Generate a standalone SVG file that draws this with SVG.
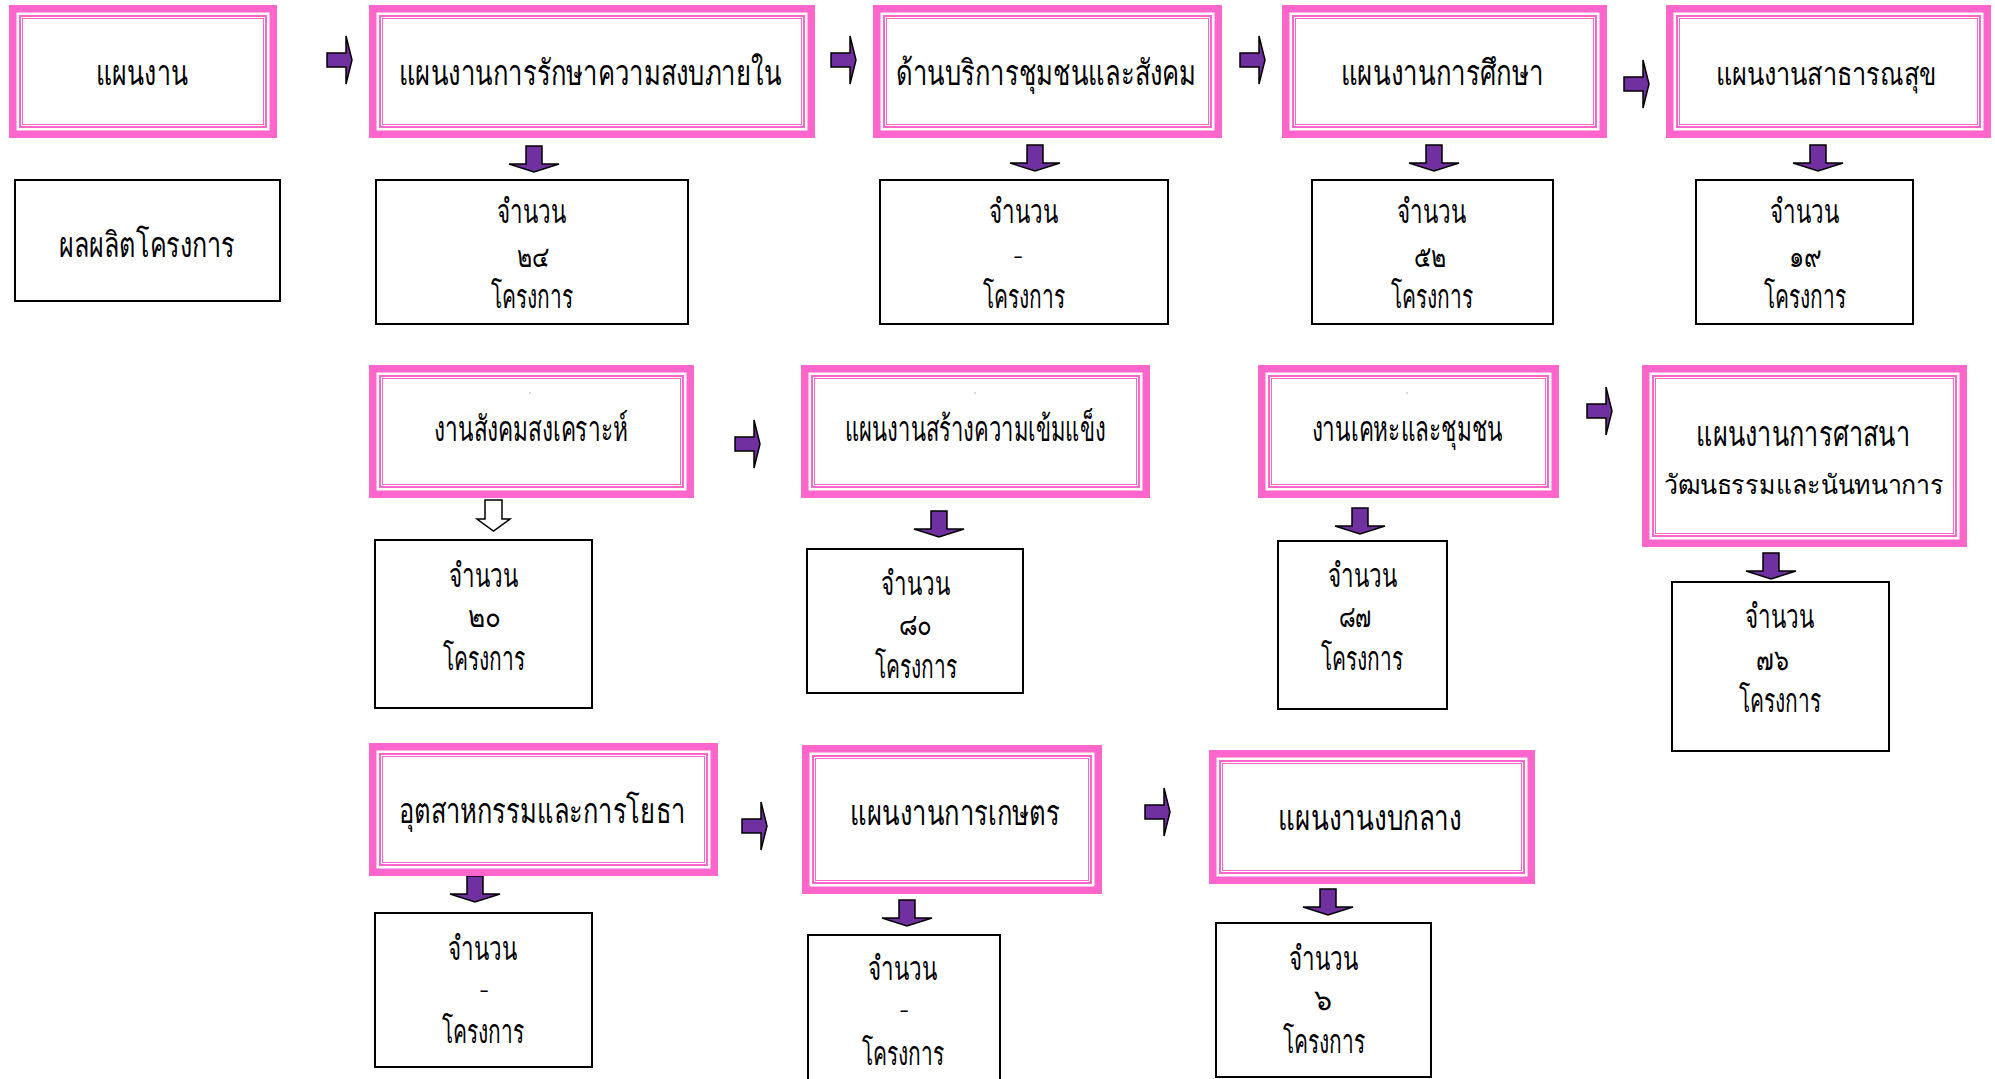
<svg xmlns="http://www.w3.org/2000/svg" xmlns:xlink="http://www.w3.org/1999/xlink" width="1995" height="1079" viewBox="0 0 1995 1079">
<style>
.po{fill:#fff;stroke:#FF66CC;stroke-width:7.5}
.pi{fill:none;stroke:#FF66CC;stroke-width:2}
.pt{fill:none;stroke:#FF66CC;stroke-width:1}
.wb{fill:#fff;stroke:#000;stroke-width:2}
.t{font-family:"Noto Sans","DejaVu Sans",sans-serif;font-size:35px;font-weight:300;fill:#000;text-anchor:middle}
.c{font-family:"Noto Sans","DejaVu Sans",sans-serif;font-size:33px;font-weight:300;fill:#000;text-anchor:middle}
.n{font-family:"Noto Sans","DejaVu Sans",sans-serif;font-size:30px;font-weight:300;fill:#000;text-anchor:middle}
.s{font-family:"DejaVu Sans",sans-serif;font-size:7px;fill:#777;text-anchor:middle}
.ar{fill:#7030A0;stroke:#000;stroke-width:1.5;stroke-linejoin:miter}
.ah{fill:#fff;stroke:#000;stroke-width:1.5}
</style>
<defs>
<path id="ra" d="M0,17 H19 V0 L25,24 L19,48 V31 H0 Z"/>
<path id="da" d="M17,0 H33 V18 H50 L25,26 L0,18 H17 Z"/>
</defs>
<rect width="1995" height="1079" fill="#fff"/>

<g id="connectors">
<use href="#ra" class="ar" x="327" y="36"/>
<use href="#ra" class="ar" x="831" y="36"/>
<use href="#ra" class="ar" x="1240" y="36"/>
<use href="#ra" class="ar" x="1624" y="60"/>
<use href="#ra" class="ar" x="735" y="420"/>
<use href="#ra" class="ar" x="1587" y="387"/>
<use href="#ra" class="ar" x="742" y="802"/>
<use href="#ra" class="ar" x="1145" y="788"/>
<use href="#da" class="ar" x="509" y="146"/>
<use href="#da" class="ar" x="1010" y="145"/>
<use href="#da" class="ar" x="1409" y="145"/>
<use href="#da" class="ar" x="1793" y="145"/>
<path class="ah" d="M485,500 H502 V519 H510 L493.5,531 L477,519 H485 Z"/>
<use href="#da" class="ar" x="914" y="511"/>
<use href="#da" class="ar" x="1335" y="508"/>
<use href="#da" class="ar" x="1746" y="553"/>
<use href="#da" class="ar" x="450" y="876"/>
<use href="#da" class="ar" x="882" y="900"/>
<use href="#da" class="ar" x="1303" y="889"/>
</g>

<!-- Row 1 pink -->
<g id="n-plan">
<rect class="po" x="12.75" y="8.75" width="260.5" height="125.5"/>
<rect class="pi" x="20" y="16" width="246" height="111"/>
<rect class="pt" x="22.5" y="18.5" width="241" height="106"/>
<text class="t" x="142" y="85" textLength="92" lengthAdjust="spacingAndGlyphs">แผนงาน</text>
</g>
<g id="n-security">
<rect class="po" x="372.75" y="8.75" width="438.5" height="125.5"/>
<rect class="pi" x="380" y="16" width="424" height="111"/>
<rect class="pt" x="382.5" y="18.5" width="419" height="106"/>
<text class="t" x="590" y="85" textLength="383" lengthAdjust="spacingAndGlyphs">แผนงานการรักษาความสงบภายใน</text>
</g>
<g id="n-community">
<rect class="po" x="876.75" y="8.75" width="341.5" height="125.5"/>
<rect class="pi" x="884" y="16" width="327" height="111"/>
<rect class="pt" x="886.5" y="18.5" width="322" height="106"/>
<text class="t" x="1046" y="85" textLength="300" lengthAdjust="spacingAndGlyphs">ด้านบริการชุมชนและสังคม</text>
</g>
<g id="n-education">
<rect class="po" x="1285.75" y="8.75" width="317.5" height="125.5"/>
<rect class="pi" x="1293" y="16" width="303" height="111"/>
<rect class="pt" x="1295.5" y="18.5" width="298" height="106"/>
<text class="t" x="1442" y="85" textLength="203" lengthAdjust="spacingAndGlyphs">แผนงานการศึกษา</text>
</g>
<g id="n-health">
<rect class="po" x="1669.75" y="8.75" width="317.5" height="125.5"/>
<rect class="pi" x="1677" y="16" width="303" height="111"/>
<rect class="pt" x="1679.5" y="18.5" width="298" height="106"/>
<text class="t" x="1826" y="85" textLength="221" lengthAdjust="spacingAndGlyphs" style="font-size:31px">แผนงานสาธารณสุข</text>
</g>

<!-- Row 1 white -->
<g id="n-output">
<rect class="wb" x="15" y="180" width="265" height="121"/>
<text class="t" x="147" y="257" textLength="176" lengthAdjust="spacingAndGlyphs">ผลผลิตโครงการ</text>
</g>
<g id="n-c1">
<rect class="wb" x="376" y="180" width="312" height="144"/>
<text class="c" x="532" y="223" textLength="70" lengthAdjust="spacingAndGlyphs">จำนวน</text>
<text class="n" x="533" y="267" textLength="33" lengthAdjust="spacingAndGlyphs">๒๔</text>
<text class="c" x="532" y="308" textLength="83" lengthAdjust="spacingAndGlyphs">โครงการ</text>
</g>
<g id="n-c2">
<rect class="wb" x="880" y="180" width="288" height="144"/>
<text class="c" x="1024" y="223" textLength="70" lengthAdjust="spacingAndGlyphs">จำนวน</text>
<text class="n" x="1018" y="265">-</text>
<text class="c" x="1024" y="308" textLength="83" lengthAdjust="spacingAndGlyphs">โครงการ</text>
</g>
<g id="n-c3">
<rect class="wb" x="1312" y="180" width="241" height="144"/>
<text class="c" x="1432" y="223" textLength="70" lengthAdjust="spacingAndGlyphs">จำนวน</text>
<text class="n" x="1430" y="267" textLength="33" lengthAdjust="spacingAndGlyphs">๕๒</text>
<text class="c" x="1432" y="308" textLength="83" lengthAdjust="spacingAndGlyphs">โครงการ</text>
</g>
<g id="n-c4">
<rect class="wb" x="1696" y="180" width="217" height="144"/>
<text class="c" x="1805" y="223" textLength="70" lengthAdjust="spacingAndGlyphs">จำนวน</text>
<text class="n" x="1805" y="267" textLength="33" lengthAdjust="spacingAndGlyphs">๑๙</text>
<text class="c" x="1805" y="308" textLength="83" lengthAdjust="spacingAndGlyphs">โครงการ</text>
</g>

<!-- Row 2 pink -->
<g id="n-welfare">
<rect class="po" x="372.75" y="368.75" width="317.5" height="125.5"/>
<rect class="pi" x="380" y="376" width="303" height="111"/>
<rect class="pt" x="382.5" y="378.5" width="298" height="106"/>
<text class="s" x="530" y="397">'</text>
<text class="t" x="531" y="441" textLength="194" lengthAdjust="spacingAndGlyphs">งานสังคมสงเคราะห์</text>
</g>
<g id="n-strength">
<rect class="po" x="804.75" y="368.75" width="341.5" height="125.5"/>
<rect class="pi" x="812" y="376" width="327" height="111"/>
<rect class="pt" x="814.5" y="378.5" width="322" height="106"/>
<text class="s" x="975" y="397">'</text>
<text class="t" x="975" y="441" textLength="261" lengthAdjust="spacingAndGlyphs">แผนงานสร้างความเข้มแข็ง</text>
</g>
<g id="n-housing">
<rect class="po" x="1261.75" y="368.75" width="293.5" height="125.5"/>
<rect class="pi" x="1269" y="376" width="279" height="111"/>
<rect class="pt" x="1271.5" y="378.5" width="274" height="106"/>
<text class="s" x="1407" y="397">'</text>
<text class="t" x="1407" y="441" textLength="191" lengthAdjust="spacingAndGlyphs">งานเคหะและชุมชน</text>
</g>
<g id="n-religion">
<rect class="po" x="1645.75" y="368.75" width="317.5" height="174.5"/>
<rect class="pi" x="1653" y="376" width="303" height="160"/>
<rect class="pt" x="1655.5" y="378.5" width="298" height="155"/>
<text class="t" x="1803" y="446" textLength="214" lengthAdjust="spacingAndGlyphs">แผนงานการศาสนา</text>
<text class="t" x="1804" y="494" textLength="280" lengthAdjust="spacingAndGlyphs" style="font-size:27px">วัฒนธรรมและนันทนาการ</text>
</g>

<!-- Row 2 white -->
<g id="n-c5">
<rect class="wb" x="375" y="540" width="217" height="168"/>
<text class="c" x="484" y="587" textLength="70" lengthAdjust="spacingAndGlyphs">จำนวน</text>
<text class="n" x="484" y="627" textLength="33" lengthAdjust="spacingAndGlyphs">๒๐</text>
<text class="c" x="484" y="670" textLength="83" lengthAdjust="spacingAndGlyphs">โครงการ</text>
</g>
<g id="n-c6">
<rect class="wb" x="807" y="549" width="216" height="144"/>
<text class="c" x="916" y="595" textLength="70" lengthAdjust="spacingAndGlyphs">จำนวน</text>
<text class="n" x="915" y="635" textLength="33" lengthAdjust="spacingAndGlyphs">๘๐</text>
<text class="c" x="916" y="678" textLength="83" lengthAdjust="spacingAndGlyphs">โครงการ</text>
</g>
<g id="n-c7">
<rect class="wb" x="1278" y="541" width="169" height="168"/>
<text class="c" x="1363" y="587" textLength="70" lengthAdjust="spacingAndGlyphs">จำนวน</text>
<text class="n" x="1355" y="627" textLength="33" lengthAdjust="spacingAndGlyphs">๘๗</text>
<text class="c" x="1362" y="670" textLength="83" lengthAdjust="spacingAndGlyphs">โครงการ</text>
</g>
<g id="n-c8">
<rect class="wb" x="1672" y="582" width="217" height="169"/>
<text class="c" x="1780" y="628" textLength="70" lengthAdjust="spacingAndGlyphs">จำนวน</text>
<text class="n" x="1772" y="670" textLength="33" lengthAdjust="spacingAndGlyphs">๗๖</text>
<text class="c" x="1780" y="712" textLength="83" lengthAdjust="spacingAndGlyphs">โครงการ</text>
</g>

<!-- Row 3 pink -->
<g id="n-industry">
<rect class="po" x="372.75" y="746.75" width="341.5" height="125.5"/>
<rect class="pi" x="380" y="754" width="327" height="111"/>
<rect class="pt" x="382.5" y="756.5" width="322" height="106"/>
<text class="t" x="542" y="823" textLength="287" lengthAdjust="spacingAndGlyphs">อุตสาหกรรมและการโยธา</text>
</g>
<g id="n-agri">
<rect class="po" x="805.75" y="748.75" width="292.5" height="141.5"/>
<rect class="pi" x="813" y="756" width="278" height="127"/>
<rect class="pt" x="815.5" y="758.5" width="273" height="122"/>
<text class="t" x="955" y="825" textLength="210" lengthAdjust="spacingAndGlyphs">แผนงานการเกษตร</text>
</g>
<g id="n-central">
<rect class="po" x="1212.75" y="753.75" width="318.5" height="126.5"/>
<rect class="pi" x="1220" y="761" width="304" height="112"/>
<rect class="pt" x="1222.5" y="763.5" width="299" height="107"/>
<text class="t" x="1370" y="830" textLength="184" lengthAdjust="spacingAndGlyphs">แผนงานงบกลาง</text>
</g>

<!-- Row 3 white -->
<g id="n-c9">
<rect class="wb" x="375" y="913" width="217" height="154"/>
<text class="c" x="483" y="960" textLength="70" lengthAdjust="spacingAndGlyphs">จำนวน</text>
<text class="n" x="484" y="999">-</text>
<text class="c" x="483" y="1043" textLength="83" lengthAdjust="spacingAndGlyphs">โครงการ</text>
</g>
<g id="n-c10">
<rect class="wb" x="808" y="935" width="192" height="150"/>
<text class="c" x="903" y="980" textLength="70" lengthAdjust="spacingAndGlyphs">จำนวน</text>
<text class="n" x="904" y="1019">-</text>
<text class="c" x="903" y="1065" textLength="83" lengthAdjust="spacingAndGlyphs">โครงการ</text>
</g>
<g id="n-c11">
<rect class="wb" x="1216" y="923" width="215" height="154"/>
<text class="c" x="1324" y="970" textLength="70" lengthAdjust="spacingAndGlyphs">จำนวน</text>
<text class="n" x="1323" y="1010" textLength="18" lengthAdjust="spacingAndGlyphs">๖</text>
<text class="c" x="1324" y="1053" textLength="83" lengthAdjust="spacingAndGlyphs">โครงการ</text>
</g>
</svg>
